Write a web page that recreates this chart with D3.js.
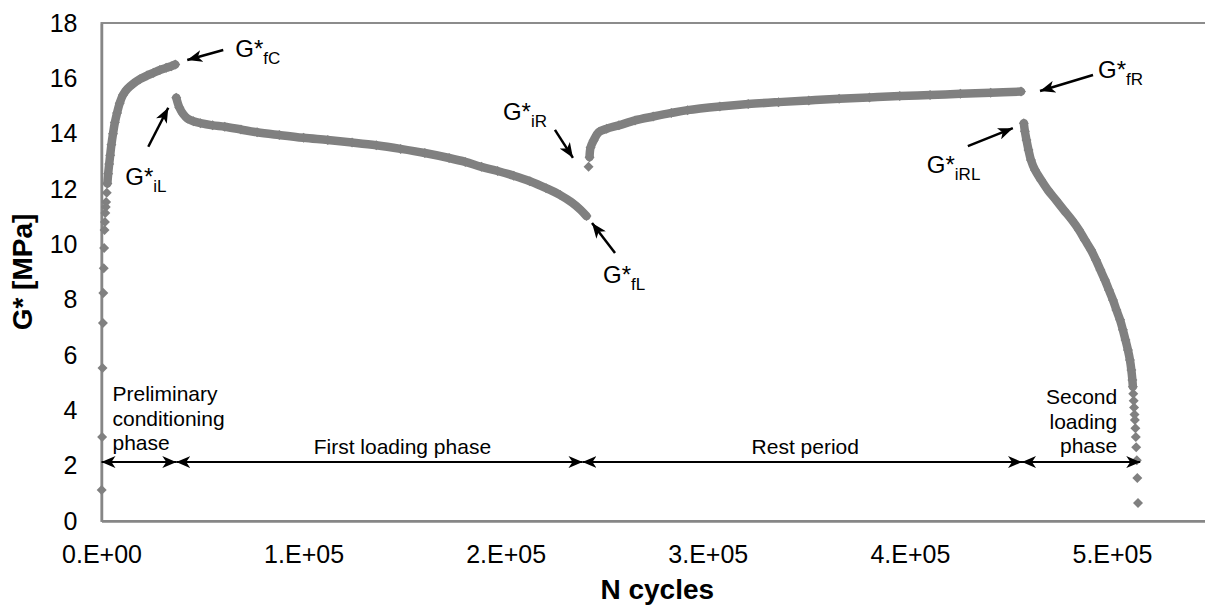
<!DOCTYPE html>
<html>
<head>
<meta charset="utf-8">
<script src="https://cdn.jsdelivr.net/npm/d3@7"></script>
<style>
body { margin: 0; background: #fff; }
text { font-family: Arial, "Liberation Sans", sans-serif; }
</style>
</head>
<body>
<svg id="mainSvg" width="1205" height="606"></svg>
<script>
// ---- data (N cycles, G* in MPa) ----
var condCycles = [100, 300, 500, 700, 900, 1100, 1300, 1500, 1700, 1900, 2100, 2300, 2600, 2900,
                  3300, 3800, 4300, 4900, 5700, 6600, 7700, 9000, 10600, 12800, 15600, 19000,
                  22500, 25700, 28900, 32000, 34500, 36500];
var condG = [1.12, 3.04, 5.53, 7.16, 8.24, 9.14, 9.87, 10.52, 10.81, 11.13, 11.35, 11.53, 11.86, 12.2,
             12.55, 12.9, 13.22, 13.6, 14.0, 14.4, 14.75, 15.1, 15.4, 15.62, 15.8, 15.97,
             16.1, 16.2, 16.3, 16.38, 16.44, 16.5];

var load1Cycles = [37000, 38500, 40500, 42500, 45500, 49000, 55000, 61000, 69000, 77000, 88000,
                   100000, 112000, 124000, 136000, 148000, 160000, 172000, 180000, 188000, 196000,
                   204000, 212000, 220000, 227000, 233000, 237000, 240000];
var load1G = [15.3, 14.95, 14.7, 14.55, 14.45, 14.38, 14.3, 14.25, 14.15, 14.05, 13.95,
              13.85, 13.77, 13.68, 13.58, 13.45, 13.3, 13.12, 12.98, 12.8, 12.65,
              12.48, 12.28, 12.03, 11.78, 11.5, 11.25, 11.02];

var restCycles = [241000, 241500, 242000, 243500, 246000, 250000, 256000, 264000, 273000, 282000,
                  290000, 306000, 320000, 335000, 350000, 365000, 380000, 395000, 410000, 425000,
                  440000, 455000];
var restG = [12.8, 13.15, 13.5, 13.75, 14.05, 14.18, 14.3, 14.48, 14.62, 14.75,
             14.85, 14.98, 15.07, 15.14, 15.2, 15.26, 15.31, 15.36, 15.4, 15.44,
             15.48, 15.52];

var load2Cycles = [456400, 456900, 457700, 458700, 459900, 461900, 464900, 468300, 472300, 476200,
                   480200, 483700, 486600, 489600, 492100, 494300, 496500, 498500, 500500, 502200,
                   504000, 505400, 506700, 507900, 508900, 509600, 510100,
                   510350, 510550, 510750, 510950, 511150, 511350, 511600, 511800, 512000, 512300,
                   512550, 512900];
var load2G = [14.38, 14.09, 13.77, 13.41, 13.05, 12.69, 12.33, 11.96, 11.6, 11.24,
              10.88, 10.52, 10.16, 9.8, 9.43, 9.07, 8.71, 8.35, 7.99, 7.63,
              7.27, 6.91, 6.54, 6.18, 5.82, 5.46, 5.1,
              4.85, 4.6, 4.35, 4.1, 3.85, 3.65, 3.35, 3.04, 2.67, 2.2,
              1.55, 0.65];

var xTicks = [0, 100000, 200000, 300000, 400000, 500000];
var xTickLabels = ["0.E+00", "1.E+05", "2.E+05", "3.E+05", "4.E+05", "5.E+05"];
var yTicks = [0, 2, 4, 6, 8, 10, 12, 14, 16, 18];

// phase limits (cycles) and the G* level of the arrow row
var phaseBounds = [0, 37000, 238000, 455500, 514000];
var phaseArrowG = 2.13;
var phaseLabels = [["Preliminary", "conditioning", "phase"], ["First loading phase"],
                   ["Rest period"], ["Second", "loading", "phase"]];

var pointLabels = ["fC", "iL", "fL", "iR", "fR", "iRL"];

// ---- scales ----
var x = d3.scaleLinear().domain([0, 550000]).range([101.5, 1213]);
var y = d3.scaleLinear().domain([0, 18]).range([521, 23]);

var svg = d3.select("#mainSvg");
var grey = "#808080";

var defs = svg.append("defs");
defs.append("marker")
    .attr("id", "phaseHead")
    .attr("viewBox", "0 0 14 12")
    .attr("refX", 14).attr("refY", 6)
    .attr("markerWidth", 14).attr("markerHeight", 12)
    .attr("markerUnits", "userSpaceOnUse")
    .attr("orient", "auto-start-reverse")
    .append("path")
    .attr("d", "M0,0L14,6L0,12L4,6Z")
    .attr("fill", "#000");
defs.append("marker")
    .attr("id", "annHead")
    .attr("viewBox", "0 0 15 12")
    .attr("refX", 15).attr("refY", 6)
    .attr("markerWidth", 15).attr("markerHeight", 12)
    .attr("markerUnits", "userSpaceOnUse")
    .attr("orient", "auto")
    .append("path")
    .attr("d", "M0,0L15,6L0,12L4,6Z")
    .attr("fill", "#000");

// plot frame
svg.append("rect")
    .attr("x", x(0)).attr("y", y(18))
    .attr("width", x(550000) - x(0)).attr("height", y(0) - y(18))
    .attr("fill", "none").attr("stroke", "#8c8c8c").attr("stroke-width", 2);

// axes
var yAxis = svg.append("g")
    .attr("transform", "translate(" + x(0) + ",0)")
    .call(d3.axisLeft(y).tickValues(yTicks).tickSize(0).tickPadding(24));
var xAxis = svg.append("g")
    .attr("transform", "translate(0," + y(0) + ")")
    .call(d3.axisBottom(x).tickValues(xTicks).tickSize(0).tickPadding(24)
        .tickFormat(function (d, i) { return xTickLabels[i]; }));
[xAxis, yAxis].forEach(function (g) {
    g.select(".domain").attr("stroke", "#868686").attr("stroke-width", 2.5);
    g.selectAll("text").attr("font-size", 25).attr("fill", "#000")
        .attr("font-family", "Arial, 'Liberation Sans', sans-serif");
});

svg.append("text")
    .attr("x", (x(0) + x(550000)) / 2).attr("y", 599)
    .attr("text-anchor", "middle").attr("font-size", 28).attr("font-weight", "bold")
    .text("N cycles");
svg.append("text")
    .attr("transform", "translate(32," + ((y(0) + y(18)) / 2) + ") rotate(-90)")
    .attr("text-anchor", "middle").attr("font-size", 28).attr("font-weight", "bold")
    .text("G* [MPa]");

// ---- data series ----
var phases = [
    { cyc: condCycles, g: condG, band: [13, condG.length] },
    { cyc: load1Cycles, g: load1G, band: [0, load1G.length] },
    { cyc: restCycles, g: restG, band: [1, restG.length] },
    { cyc: load2Cycles, g: load2G, band: [0, 28] }
];

var bandLine = d3.line()
    .x(function (d) { return x(d[0]); })
    .y(function (d) { return y(d[1]); })
    .curve(d3.curveCatmullRom);

var seriesGroup = svg.append("g").attr("class", "series");
phases.forEach(function (p) {
    var pts = p.cyc.map(function (c, i) { return [c, p.g[i]]; });
    seriesGroup.append("path")
        .attr("d", bandLine(pts.slice(p.band[0], p.band[1])))
        .attr("fill", "none").attr("stroke", grey)
        .attr("stroke-width", 8.5).attr("stroke-linecap", "round").attr("stroke-linejoin", "round");
    seriesGroup.selectAll(null)
        .data(pts)
        .enter()
        .append("path")
        .attr("d", "M0,-5L5,0L0,5L-5,0Z")
        .attr("transform", function (d) { return "translate(" + x(d[0]) + "," + y(d[1]) + ")"; })
        .attr("fill", grey);
});

// ---- phase arrows ----
var arrowY = y(phaseArrowG);
var phaseGroup = svg.append("g");
for (var i = 0; i < phaseBounds.length - 1; i++) {
    phaseGroup.append("line")
        .attr("x1", x(phaseBounds[i])).attr("x2", x(phaseBounds[i + 1]))
        .attr("y1", arrowY).attr("y2", arrowY)
        .attr("stroke", "#000").attr("stroke-width", 2)
        .attr("marker-start", "url(#phaseHead)").attr("marker-end", "url(#phaseHead)");
}

function phaseText(lines, px, anchor, lastBaseline) {
    var t = phaseGroup.append("text")
        .attr("text-anchor", anchor).attr("font-size", 21).attr("fill", "#000");
    lines.forEach(function (l, k) {
        t.append("tspan").attr("x", px)
            .attr("y", lastBaseline - (lines.length - 1 - k) * 24.5)
            .text(l);
    });
}
phaseText(phaseLabels[0], x(phaseBounds[0]) + 11, "start", arrowY - 12);
phaseText(phaseLabels[1], (x(phaseBounds[1]) + x(phaseBounds[2])) / 2 + 23, "middle", arrowY - 8);
phaseText(phaseLabels[2], (x(phaseBounds[2]) + x(phaseBounds[3])) / 2 + 3, "middle", arrowY - 8);
phaseText(phaseLabels[3], x(phaseBounds[4]) - 23, "end", arrowY - 9);

// ---- point annotations: anchored on a data point, offsets in px ----
var annots = [
    { lab: pointLabels[0], c: condCycles[condCycles.length - 1], g: condG[condG.length - 1], head: [12, -4.5], tail: [48, -14.5], txt: [60, -7.5] },
    { lab: pointLabels[1], c: load1Cycles[0], g: load1G[0], head: [-8, 10], tail: [-28, 49], txt: [-51, 87] },
    { lab: pointLabels[2], c: load1Cycles[load1Cycles.length - 1], g: load1G[load1G.length - 1], head: [5.5, 7], tail: [28.5, 37], txt: [16.5, 67] },
    { lab: pointLabels[3], c: restCycles[0], g: restG[0], head: [-15.6, -9], tail: [-33.6, -37], txt: [-85.6, -47] },
    { lab: pointLabels[4], c: restCycles[restCycles.length - 1], g: restG[restG.length - 1], head: [19, -0.6], tail: [72, -16.6], txt: [77, -13.6] },
    { lab: pointLabels[5], c: load2Cycles[0], g: load2G[0], head: [-11, 5], tail: [-56, 23], txt: [-97, 50] }
];

var annGroup = svg.append("g");
annots.forEach(function (a) {
    var px = x(a.c), py = y(a.g);
    var hx = px + a.head[0], hy = py + a.head[1];
    var tx = px + a.tail[0], ty = py + a.tail[1];
    annGroup.append("line")
        .attr("x1", tx).attr("y1", ty).attr("x2", hx).attr("y2", hy)
        .attr("stroke", "#000").attr("stroke-width", 2.5)
        .attr("marker-end", "url(#annHead)");
    var t = annGroup.append("text")
        .attr("x", px + a.txt[0]).attr("y", py + a.txt[1])
        .attr("font-size", 24).attr("fill", "#000");
    t.append("tspan").text("G*");
    t.append("tspan").attr("dy", 7).attr("font-size", 17).text(a.lab);
});
</script>
</body>
</html>
